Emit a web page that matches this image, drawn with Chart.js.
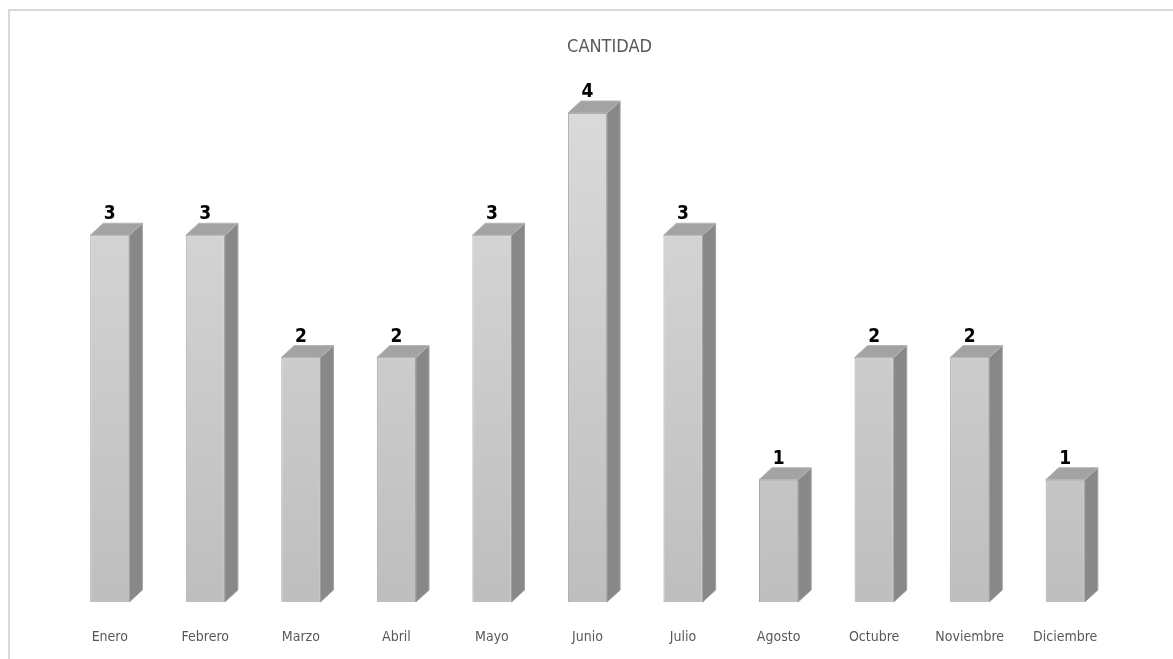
<!DOCTYPE html>
<html>
<head>
<meta charset="utf-8">
<script src="https://cdn.jsdelivr.net/npm/chart.js@4.4.0/dist/chart.umd.min.js"></script>
<style>
  html, body { margin: 0; padding: 0; background: #fff; }
  #wrap { width: 1173px; height: 659px; position: relative; }
</style>
</head>
<body>
<div id="wrap"><canvas id="myChart"></canvas></div>
<script>
const meses = ['Enero', 'Febrero', 'Marzo', 'Abril', 'Mayo', 'Junio', 'Julio', 'Agosto', 'Octubre', 'Noviembre', 'Diciembre'];
const cantidad = [3, 3, 2, 2, 3, 4, 3, 1, 2, 2, 1];
const titulo = 'CANTIDAD';

const fuente = "'DejaVu Sans Condensed', 'Liberation Sans', Arial, sans-serif";
const alto = 12;   // profundidad 3D en y

// marco del grafico (solo se ve arriba y a la izquierda) + titulo
// el titulo va corrido a la derecha porque el grafico original es mas ancho que el recorte
const marco = {
    id: 'marco',
    beforeDraw(chart) {
        const c = chart.ctx;
        c.save();
        c.strokeStyle = '#d9d9d9';
        c.lineWidth = 2;
        c.strokeRect(9, 10, chart.width + 20, chart.height + 20);
        c.fillStyle = '#595959';
        c.font = '18px ' + fuente;
        c.textAlign = 'center';
        c.textBaseline = 'middle';
        c.fillText(titulo, chart.width / 2 + 23, 47);
        c.restore();
    }
};

// caras laterales y superiores + etiquetas de valor
const barras3d = {
    id: 'barras3d',
    afterDatasetsDraw(chart) {
        const c = chart.ctx;
        const meta = chart.getDatasetMeta(0);
        c.save();
        meta.data.forEach((bar, i) => {
            const izq = bar.x - bar.width / 2;
            const der = bar.x + bar.width / 2;
            const dx = 13;
            // lado
            c.beginPath();
            c.moveTo(der, bar.y);
            c.lineTo(der + dx, bar.y - alto);
            c.lineTo(der + dx, bar.base - alto);
            c.lineTo(der, bar.base);
            c.closePath();
            c.fillStyle = '#888888';
            c.fill();
            c.strokeStyle = '#a0a0a0';
            c.lineWidth = 1;
            c.stroke();
            // tapa
            c.beginPath();
            c.moveTo(izq, bar.y);
            c.lineTo(izq + dx, bar.y - alto);
            c.lineTo(der + dx, bar.y - alto);
            c.lineTo(der, bar.y);
            c.closePath();
            c.fillStyle = '#a3a3a3';
            c.fill();
            c.strokeStyle = '#b5b5b5';
            c.stroke();
            // valor
            c.fillStyle = '#000';
            c.font = 'bold 19px ' + fuente;
            c.textAlign = 'center';
            c.textBaseline = 'alphabetic';
            c.fillText(cantidad[i], bar.x, bar.y - alto - 4);
        });
        c.restore();
    }
};

const ctx = document.getElementById('myChart').getContext('2d');

const myChart = new Chart(ctx, {
    type: 'bar',
    data: {
        labels: meses,
        datasets: [{
            label: titulo,
            data: cantidad,
            backgroundColor: (context) => {
                const { chart } = context;
                const area = chart.chartArea;
                if (!area) return '#cccccc';
                const g = chart.ctx.createLinearGradient(0, area.top, 0, area.bottom);
                g.addColorStop(0, '#dadada');
                g.addColorStop(1, '#bebebe');
                return g;
            },
            borderColor: '#a8a8a8',
            borderWidth: 1,
            barPercentage: 0.41,
            categoryPercentage: 1
        }]
    },
    options: {
        responsive: true,
        maintainAspectRatio: false,
        animation: false,
        layout: { padding: { top: 113, left: 62, right: 60, bottom: 0 } },
        plugins: {
            legend: { display: false },
            tooltip: { enabled: false },
            title: { display: false }
        },
        scales: {
            x: {
                grid: { display: false, drawTicks: false },
                border: { display: false },
                afterFit: (scale) => { scale.height = 57; },
                ticks: {
                    color: '#595959',
                    font: { family: fuente, size: 14 },
                    padding: 27,
                    maxRotation: 0,
                    autoSkip: false
                }
            },
            y: {
                display: false,
                min: 0,
                max: 4
            }
        }
    },
    plugins: [marco, barras3d]
});
</script>
</body>
</html>
